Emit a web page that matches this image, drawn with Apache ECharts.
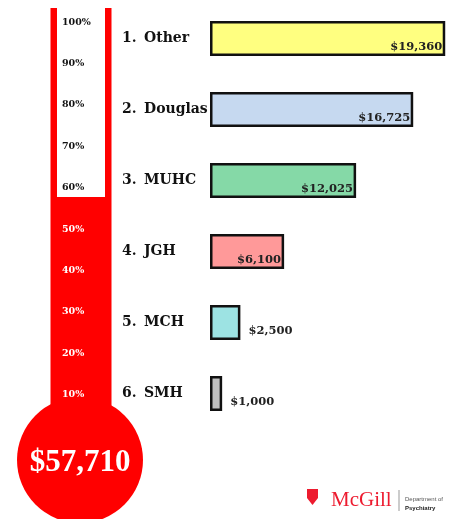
<!DOCTYPE html>
<html>
<head>
<meta charset="utf-8">
<script src="https://cdn.jsdelivr.net/npm/echarts@6/dist/echarts.min.js"></script>
<style>
  html, body { margin: 0; padding: 0; background: #fff; }
  #main { width: 455px; height: 519px; }
</style>
</head>
<body>
<div id="main"></div>
<script>
// donations per hospital
const hospitals = ['Other', 'Douglas', 'MUHC', 'JGH', 'MCH', 'SMH']
const amounts = [19360, 16725, 12025, 6100, 2500, 1000]
const barColors = ['#ffff80', '#c6d9f0', '#85d9a7', '#ff9999', '#9de3e3', '#bfbfbf']
// thermometer
const goal = 100000
const pctTicks = [10, 20, 30, 40, 50, 60, 70, 80, 90, 100]
const tubeTop = 103.4

const total = amounts.reduce((a, b) => a + b, 0)
const pctRaised = total / goal * 100
const serif = '"DejaVu Serif", serif'
const money = v => '$' + v.toLocaleString('en-US')

const chart = echarts.init(document.getElementById('main'))

// tube: red outline, white inside, red fill up to the raised percentage
function renderTube (params, api) {
  const base = api.coord([0, 0])
  const top = api.coord([0, tubeTop])
  const fill = api.coord([0, api.value(1)])
  const cx = base[0]
  return {
    type: 'group',
    children: [
      { type: 'rect', shape: { x: cx - 30.5, y: top[1], width: 61, height: base[1] - top[1] }, style: { fill: '#ff0000' } },
      { type: 'rect', shape: { x: cx - 24, y: top[1], width: 48, height: base[1] - top[1] }, style: { fill: '#ffffff' } },
      { type: 'rect', shape: { x: cx - 24, y: fill[1], width: 48, height: base[1] - fill[1] }, style: { fill: '#ff0000' } }
    ]
  }
}

const option = {
  animation: false,
  grid: [
    { left: 210, top: 3, width: 243, height: 426 },
    { left: 57, top: 8, width: 48, bottom: 83 }
  ],
  xAxis: [
    { gridIndex: 0, type: 'value', min: 0, max: 20000, show: false },
    { gridIndex: 1, type: 'value', min: -1, max: 1, show: false }
  ],
  yAxis: [
    {
      gridIndex: 0,
      type: 'category',
      inverse: true,
      data: hospitals,
      axisLine: { show: false },
      axisTick: { show: false },
      axisLabel: {
        align: 'left',
        margin: 88,
        formatter: (v, i) => '{n|' + (i + 1) + '.}{t|' + v + '}',
        rich: {
          n: { width: 22, fontFamily: serif, fontWeight: 'bold', fontSize: 14, color: '#111' },
          t: { fontFamily: serif, fontWeight: 'bold', fontSize: 14, color: '#111' }
        }
      }
    },
    {
      gridIndex: 1,
      type: 'value',
      min: 0,
      max: tubeTop,
      interval: 10,
      z: 10,
      splitLine: { show: false },
      axisLine: { show: false },
      axisTick: { show: false },
      axisLabel: {
        inside: true,
        margin: 5,
        fontFamily: serif,
        fontWeight: 'bold',
        fontSize: 9.5,
        formatter: v => (pctTicks.indexOf(Math.round(v)) >= 0 && Math.abs(v - Math.round(v)) < 1e-6 ? v + '%' : ''),
        color: v => (Number(v) < pctRaised ? '#fff' : '#111')
      }
    }
  ],
  series: [
    {
      type: 'bar',
      xAxisIndex: 0,
      yAxisIndex: 0,
      barWidth: 35,
      data: amounts.map((v, i) => ({
        value: v,
        itemStyle: { color: barColors[i] },
        label: v < 5000
          ? { position: 'right', offset: [2, 9], distance: 6 }
          : { position: 'insideBottomRight', distance: 3 }
      })),
      itemStyle: { borderColor: '#111', borderWidth: 2.5 },
      label: {
        show: true,
        formatter: p => money(p.value),
        fontFamily: serif,
        fontWeight: 'bold',
        fontSize: 11.5,
        color: '#222'
      },
      z: 3
    },
    {
      type: 'custom',
      xAxisIndex: 1,
      yAxisIndex: 1,
      renderItem: renderTube,
      data: [[0, pctRaised]],
      silent: true,
      z: 1
    }
  ],
  graphic: [
    {
      type: 'circle',
      shape: { cx: 80, cy: 460, r: 63 },
      style: { fill: '#ff0000' },
      z: 5
    },
    {
      type: 'text',
      x: 80,
      y: 463,
      style: {
        text: money(total),
        fill: '#fff',
        font: 'bold 31px "Liberation Serif", serif',
        textAlign: 'center',
        textVerticalAlign: 'middle'
      },
      z: 6
    },
    // McGill logo
    {
      type: 'polygon',
      shape: { points: [[307, 489], [318, 489], [318, 498], [312.5, 505], [307, 498]] },
      style: { fill: '#ed1b2f' },
      z: 5
    },
    {
      type: 'text',
      x: 331,
      y: 500,
      style: {
        text: 'McGill',
        fill: '#ed1b2f',
        font: '21px "Liberation Serif", serif',
        textVerticalAlign: 'middle'
      },
      z: 5
    },
    {
      type: 'line',
      shape: { x1: 399, y1: 490, x2: 399, y2: 511 },
      style: { stroke: '#999', lineWidth: 1 },
      z: 5
    },
    {
      type: 'text',
      x: 405,
      y: 499,
      style: { text: 'Department of', fill: '#555', font: '6px "Liberation Sans", sans-serif', textVerticalAlign: 'middle' },
      z: 5
    },
    {
      type: 'text',
      x: 405,
      y: 508,
      style: { text: 'Psychiatry', fill: '#222', font: 'bold 6px "Liberation Sans", sans-serif', textVerticalAlign: 'middle' },
      z: 5
    }
  ]
}

chart.setOption(option)
</script>
</body>
</html>
